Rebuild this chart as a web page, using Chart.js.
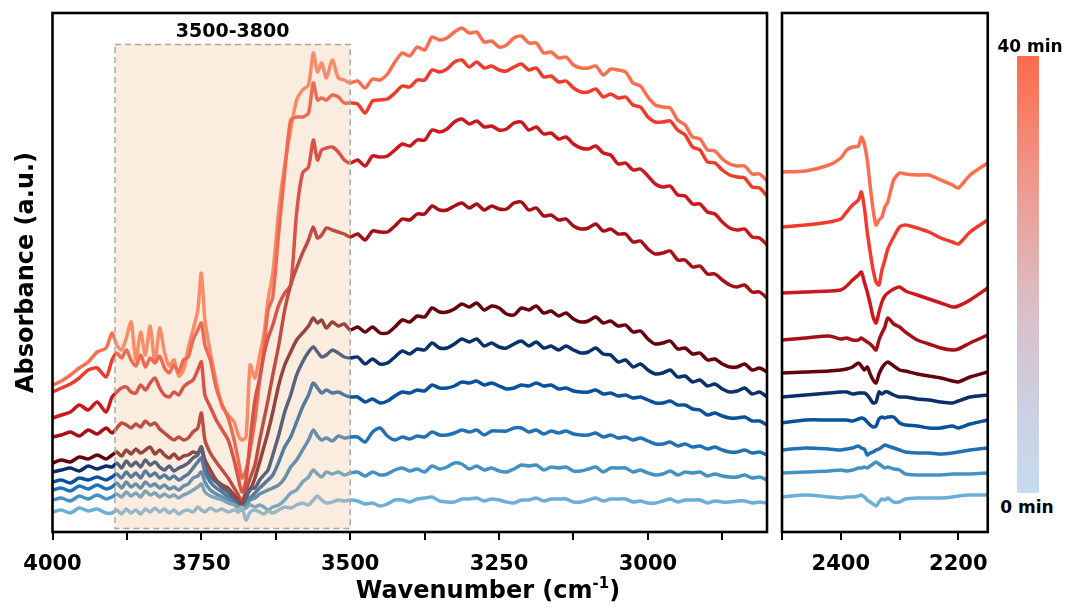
<!DOCTYPE html>
<html>
<head>
<meta charset="utf-8">
<script src="https://cdn.jsdelivr.net/npm/chart.js@4.4.0/dist/chart.umd.min.js"></script>
<style>
  html, body { margin: 0; padding: 0; background: #fff; }
  body { width: 1067px; height: 614px; position: relative; overflow: hidden; font-family: "DejaVu Sans", sans-serif; }
  #c1 { position: absolute; left: 0; top: 0; }
  #c2 { position: absolute; left: 770px; top: 0; }
  #xtitle { position: absolute; left: 488px; top: 576px; transform: translateX(-50%); font-size: 24px; line-height: 28px; font-weight: bold; white-space: nowrap; color: #000; }
  #xtitle .sup { font-size: 15px; position: relative; top: -10px; }
  #cbar { position: absolute; left: 1017px; top: 56px; width: 22px; height: 437px;
          background: linear-gradient(to bottom, #fc6b4c 0%, #ee9a8f 30%, #dcbcc3 55%, #ccd0e2 80%, #c6dbef 100%); }
  .cblab { position: absolute; transform: translateX(-50%); font-size: 17px; line-height: 17px; font-weight: bold; white-space: nowrap; color: #000; }
</style>
</head>
<body>
<canvas id="c1" width="772" height="614"></canvas>
<canvas id="c2" width="230" height="614"></canvas>
<div id="xtitle">Wavenumber (cm<span class="sup">-1</span>)</div>
<div id="cbar"></div>
<div class="cblab" style="left:1030px; top:38px;">40 min</div>
<div class="cblab" style="left:1027px; top:499px;">0 min</div>
<script>
// ---------------- DATA ----------------
const LEFT_X = [4000,3985,3970,3955,3940,3925,3910,3900,
  3892,3884,3876,3868,3860,3852,3844,3836,3828,3820,3812,3804,3796,3788,3780,3772,3764,3756,3750,3744,
  3735,3725,3715,3705,3695,3688,3682,3675,3668,3660,3652,3645,3638,3630,3620,3610,3600,3590,3580,3570,3562,3555,3548,3540,3530,3520,3510,3500,
  3487.5,3475,3462.5,3450,3437.5,3425,3412.5,3400,3387.5,3375,3362.5,3350,3337.5,3325,3312.5,3300,3287.5,3275,3262.5,3250,
  3237.5,3225,3212.5,3200,3187.5,3175,3162.5,3150,3137.5,3125,3112.5,3100,3087.5,3075,3062.5,3050,3037.5,3025,3012.5,3000,
  2987.5,2975,2962.5,2950,2937.5,2925,2912.5,2900,2887.5,2875,2862.5,2850,2837.5,2825,2812.5,2800];

// series 1 (0 min) ... series 10 (40 min), left window
const S1_L = [20,22,19,24,21,23,19,19,
  22,18,23,19,22,18,23,20,24,20,23,19,22,18,21,22,20,25,22,20,
  24,21,23,20,22,20,25,12,20,22,20,18,21,19,22,25,24,27,29,27,32,36,32,29,30,32,31,32,
  31,28,29,26,28,32,32,30,33,34,35,31,30,30,33,33,34,31,33,32,30,29,32,32,34,31,33,33,33,30,30,32,34,31,33,33,33,30,31,29,
  29,31,33,30,32,32,32,29,31,30,30,31,31,29,30,29];
const S2_L = [32,34,31,36,33,37,33,35,
  38,35,40,36,39,35,41,37,39,35,38,35,37,34,37,39,42,45,48,40,
  36,34,32,29,27,24,22,24,27,25,27,25,22,25,27,32,39,42,50,55,62,58,55,60,58,60,57,59,
  60,56,60,57,58,62,64,61,63,60,66,63,65,69,68,63,66,62,64,61,60,63,67,66,67,62,65,64,65,61,61,63,65,60,64,64,64,60,62,59,
  57,58,61,57,60,59,60,56,58,56,55,55,57,54,55,52];
const S3_L = [42,44,41,46,43,47,43,45,
  49,44,50,45,48,44,50,46,48,44,47,43,45,42,46,48,54,56,60,50,
  42,38,35,32,28,25,22,26,32,34,38,40,42,44,47,54,65,72,82,92,102,96,92,94,91,96,94,95,
  95,90,100,104,96,92,95,93,96,95,100,97,97,99,102,100,102,97,101,101,101,104,104,100,102,98,101,99,101,98,97,97,99,95,97,94,95,92,94,91,
  88,88,90,86,88,85,86,83,85,82,80,80,82,79,80,77];
const S4_L = [50,52,49,54,52,55,52,55,
  58,54,60,55,59,54,61,56,59,54,57,53,56,52,55,58,64,70,74,60,
  50,44,40,35,29,25,22,27,34,39,44,48,52,57,70,85,95,110,125,137,149,144,139,142,139,140,137,135,
  135,130,133,129,131,136,140,139,142,141,147,144,144,146,150,149,151,147,149,146,143,144,147,146,149,146,147,143,144,141,140,140,142,138,139,136,137,134,135,132,
  129,129,131,127,127,123,122,117,119,116,114,114,115,111,111,107];
const S5_L = [60,62,64,61,66,63,66,65,
  69,64,71,66,70,65,72,67,70,65,62,66,61,64,66,69,74,77,85,66,
  55,50,44,40,32,27,22,32,44,44,52,57,62,77,97,120,137,157,170,180,185,180,175,177,182,179,175,174,
  175,168,173,168,169,175,181,178,183,182,189,184,184,188,193,190,193,186,189,185,184,188,191,186,190,184,186,182,186,182,179,180,184,178,177,170,172,165,168,162,
  158,159,162,155,156,150,152,146,148,143,140,141,144,138,140,135];
const S6_L = [69,72,70,75,73,77,73,77,
  80,76,82,78,83,79,82,85,78,82,77,74,78,73,76,77,80,79,85,72,
  62,52,47,44,37,32,27,37,42,54,70,85,100,120,147,167,180,192,199,206,214,209,212,204,210,206,208,202,
  205,200,205,199,199,205,212,210,216,215,224,220,220,223,228,225,229,222,226,224,218,217,224,222,226,219,221,216,219,213,210,211,215,209,211,206,207,200,201,193,
  188,189,191,183,184,178,179,172,173,168,165,165,168,162,164,160];
const S7_L = [95,97,100,96,102,98,104,99,
  104,109,107,104,108,105,111,107,109,103,99,95,92,95,92,94,100,104,119,92,
  79,70,62,54,44,37,30,42,54,67,92,112,132,157,187,222,247,264,279,292,305,294,297,304,302,300,298,295,
  298,292,301,300,300,306,313,312,318,318,326,322,322,326,329,324,328,322,326,323,323,329,330,322,324,316,317,312,313,306,303,304,308,301,303,298,298,290,291,283,
  278,279,281,272,272,265,266,258,258,252,247,245,247,240,240,234];
const S8_L = [114,117,120,127,122,130,120,135,
  140,144,145,140,139,147,142,149,154,144,137,135,140,137,145,149,152,162,170,137,
  125,112,102,92,72,54,40,52,92,132,154,177,194,207,227,239,247,319,359,365,392,372,382,384,385,380,372,369,
  372,366,376,375,376,382,388,386,392,392,402,400,403,410,413,408,411,405,406,402,403,409,410,402,405,398,399,393,395,388,384,383,386,379,377,368,369,362,363,356,
  348,345,346,337,336,328,328,320,318,310,304,302,303,295,294,287];
const S9_L = [140,144,148,154,162,164,155,172,
  179,174,182,172,166,177,165,174,169,176,164,159,167,160,172,175,192,202,209,187,
  172,144,127,114,92,72,54,62,82,112,152,182,222,235,300,360,412,415,415,419,449,432,434,432,437,435,429,429,
  428,419,431,432,433,439,446,445,452,452,462,460,463,470,472,465,470,464,466,462,461,465,468,462,464,455,456,450,451,444,440,440,443,435,438,434,435,427,425,415,
  410,410,411,402,397,385,382,370,369,362,357,355,354,345,344,336];
const S10_L = [147,151,157,164,170,180,184,199,
  187,182,194,210,172,200,177,206,170,204,180,166,172,156,162,184,202,222,259,212,
  180,150,125,117,110,97,92,95,167,154,177,197,232,259,322,367,402,432,442,447,479,460,469,454,472,454,452,449,
  451,444,453,452,458,470,479,476,485,482,495,492,494,500,504,499,500,490,491,485,487,494,496,489,489,479,480,474,475,467,464,464,466,457,463,462,460,449,446,435,
  427,425,424,412,407,395,393,382,381,373,368,366,366,358,358,351];

const RIGHT_X = [2500,2460,2420,2400,2390,2380,2370,2365,2360,2355,2350,2345,2340,2335,2330,2325,2320,2310,2300,2290,2270,2250,2230,2210,2200,2180,2150];
const S1_R = [35,37,35,34,35,35,36,37,35,32,30,28,26,30,33,32,34,30,30,33,34,34,34,35,36,37,37];
const S2_R = [59,60,61,62,61,62,64,64,65,64,66,68,70,68,66,64,65,63,62,58,57,57,57,58,58,58,59];
const S3_R = [82,84,83,82,83,84,86,84,83,77,79,80,82,83,85,87,86,84,82,80,79,79,78,79,80,82,84];
const S4_R = [109,112,112,112,112,111,113,114,113,110,107,105,106,113,115,114,115,115,109,107,106,104,104,106,104,108,112];
const S5_R = [135,137,139,140,140,138,139,139,139,137,133,129,130,140,138,140,140,137,135,135,133,132,130,129,131,135,137];
const S6_R = [159,160,161,162,163,165,169,166,162,165,158,152,149,158,164,168,170,166,162,161,158,156,154,151,150,155,160];
const S7_R = [192,194,196,193,194,192,192,194,192,190,188,185,182,192,199,205,214,208,205,200,192,188,184,182,183,189,197];
const S8_R = [239,240,241,242,246,252,257,260,250,240,228,215,209,220,230,236,239,243,245,241,237,233,229,225,226,232,244];
const S9_R = [305,307,310,313,320,327,332,340,325,300,280,262,250,247,262,272,283,295,305,307,304,300,294,290,288,300,312];
const S10_R = [360,361,367,374,382,385,386,395,388,372,346,322,307,312,315,325,330,352,359,358,357,357,352,347,344,357,369];

const SERIES_LABELS = ['0 min','t2','t3','t4','t5','t6','t7','t8','t9','40 min'];
const LEFT_SERIES = [S1_L,S2_L,S3_L,S4_L,S5_L,S6_L,S7_L,S8_L,S9_L,S10_L];
const RIGHT_SERIES = [S1_R,S2_R,S3_R,S4_R,S5_R,S6_R,S7_R,S8_R,S9_R,S10_R];

const LEFT_MAJOR_TICKS = [4000,3750,3500,3250,3000];
const LEFT_MINOR_TICKS = [3875,3625,3375,3125,2875];
const RIGHT_MAJOR_TICKS = [2400,2200];
const RIGHT_MINOR_TICKS = [2500,2300];

const HIGHLIGHT_LABEL = '3500-3800';
const HIGHLIGHT_FROM = 3895, HIGHLIGHT_TO = 3500;

// ---------------- STYLE ----------------
const COLORS = ['#6baed6','#4292c6','#2171b5','#08519c','#08306b','#67000d','#a50f15','#cb181d','#ef3b2c','#fb6e4e'];
const FONT = 'DejaVu Sans';

function makeDatasets(xs, series) {
  return series.map((arr, k) => ({
    label: SERIES_LABELS[k],
    data: xs.map((x, i) => ({x: x, y: arr[i]})),
    borderColor: COLORS[k],
    backgroundColor: COLORS[k],
    borderWidth: 3.5,
    pointRadius: 0,
    tension: 0.25,
    borderJoinStyle: 'round',
    borderCapStyle: 'round',
    fill: false
  }));
}

const framePlugin = {
  id: 'frame',
  afterDraw(chart) {
    const {ctx, chartArea: a} = chart;
    ctx.save();
    ctx.strokeStyle = '#000';
    ctx.lineWidth = 2.6;
    ctx.strokeRect(a.left, a.top, a.right - a.left, a.bottom - a.top);
    ctx.restore();
  }
};

const shadePlugin = {
  id: 'shade',
  afterDatasetsDraw(chart) {
    const {ctx} = chart;
    const xs = chart.scales.x, ys = chart.scales.y;
    const x0 = xs.getPixelForValue(HIGHLIGHT_FROM), x1 = xs.getPixelForValue(HIGHLIGHT_TO);
    const y0 = ys.getPixelForValue(487.5), y1 = ys.getPixelForValue(3.5);
    ctx.save();
    ctx.fillStyle = 'rgba(240,199,158,0.34)';
    ctx.fillRect(x0, y0, x1 - x0, y1 - y0);
    ctx.strokeStyle = '#a8a8a8';
    ctx.lineWidth = 1.5;
    ctx.setLineDash([6, 4]);
    ctx.strokeRect(x0, y0, x1 - x0, y1 - y0);
    ctx.setLineDash([]);
    ctx.fillStyle = '#000';
    ctx.font = 'bold 19px "' + FONT + '"';
    ctx.textAlign = 'center';
    ctx.textBaseline = 'alphabetic';
    ctx.fillText(HIGHLIGHT_LABEL, (x0 + x1) / 2, 37);
    ctx.restore();
  }
};

function xScale(min, max, major, minor, height) {
  return {
    type: 'linear', reverse: true, min: min, max: max,
    afterBuildTicks: s => { s.ticks = major.concat(minor).sort((a, b) => b - a).map(v => ({value: v})); },
    afterFit: s => { s.height = height; },
    ticks: {
      autoSkip: false, maxRotation: 0, minRotation: 0, padding: 12, color: '#000',
      font: {family: FONT, weight: 'bold', size: 21},
      callback: v => major.includes(v) ? String(v) : ''
    },
    grid: {display: true, drawOnChartArea: false, drawTicks: true, tickLength: 8, color: '#000', lineWidth: 2},
    border: {display: false}
  };
}

new Chart(document.getElementById('c1'), {
  type: 'line',
  data: {datasets: makeDatasets(LEFT_X, LEFT_SERIES)},
  options: {
    responsive: false, animation: false,
    layout: {padding: {top: 13, right: 5, left: 0, bottom: 0}},
    plugins: {legend: {display: false}, tooltip: {enabled: false}},
    scales: {
      x: xScale(2800, 4000, LEFT_MAJOR_TICKS, LEFT_MINOR_TICKS, 82),
      y: {
        min: 0, max: 519,
        afterFit: s => { s.width = 52.5; },
        ticks: {display: false}, grid: {display: false}, border: {display: false},
        title: {display: true, text: 'Absorbance (a.u.)', color: '#000',
                font: {family: FONT, weight: 'bold', size: 24}, padding: {top: 12, bottom: 0}}
      }
    }
  },
  plugins: [shadePlugin, framePlugin]
});

new Chart(document.getElementById('c2'), {
  type: 'line',
  data: {datasets: makeDatasets(RIGHT_X, RIGHT_SERIES)},
  options: {
    responsive: false, animation: false,
    layout: {padding: {top: 13, right: 9, left: 6, bottom: 0}},
    plugins: {legend: {display: false}, tooltip: {enabled: false}},
    scales: {
      x: xScale(2150, 2500, RIGHT_MAJOR_TICKS, RIGHT_MINOR_TICKS, 82),
      y: {min: 0, max: 519, display: false}
    }
  },
  plugins: [framePlugin]
});
</script>
</body>
</html>
